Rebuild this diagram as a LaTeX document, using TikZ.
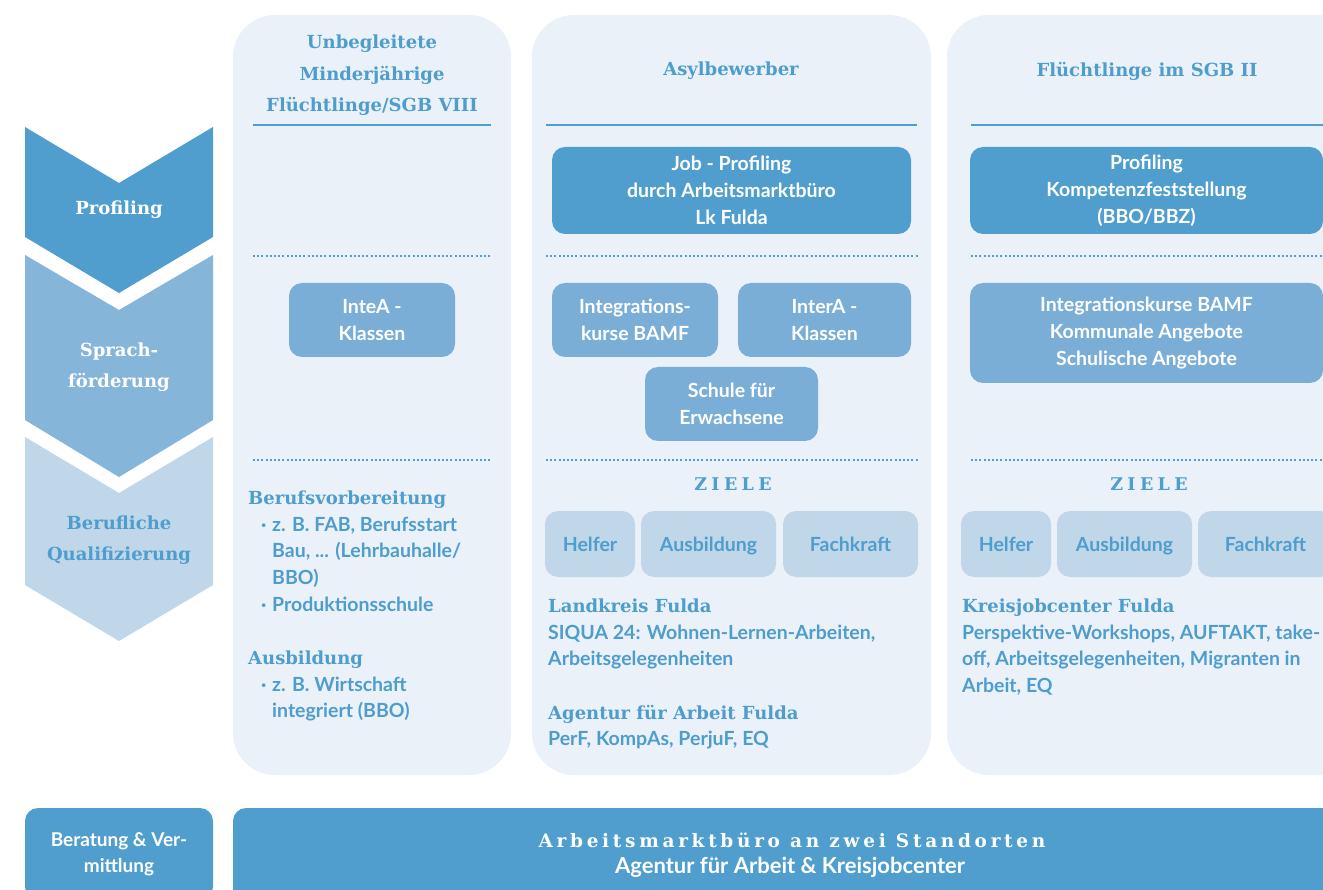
\documentclass[tikz,border=0pt]{standalone}
\usepackage{fontspec}
\setsansfont{Lato}
\newfontfamily\serifb{DejaVu Serif}
\definecolor{cBg}{HTML}{EAF1F8}
\definecolor{cDark}{HTML}{509ECE}
\definecolor{cMid}{HTML}{7AAED7}
\definecolor{cChevMid}{HTML}{86B5DA}
\definecolor{cLight}{HTML}{C0D7EA}
\definecolor{cText}{HTML}{4F9DCD}
\newcommand\firstln{\rule{0pt}{16pt}}
\tikzset{
  x=1pt, y=-1pt,
  column/.style={fill=cBg, rounded corners=42pt},
  boxbase/.style={rounded corners=13pt, inner sep=0pt, align=center, font=\sffamily\bfseries\fontsize{19.5}{27}\selectfont},
  darkbox/.style={boxbase, fill=cDark, text=white},
  midbox/.style={boxbase, fill=cMid, text=white},
  zielbox/.style={boxbase, fill=cLight, text=cText, minimum height=66pt, text height=16pt, text depth=2pt},
  colhead/.style={text=cText, align=center, font=\serifb\bfseries\fontsize{18}{31.5}\selectfont},
  sechead/.style={text=cText, anchor=base west, inner sep=0pt, font=\serifb\bfseries\fontsize{18}{27}\selectfont},
  bodytxt/.style={text=cText, anchor=north west, inner sep=0pt, align=left, font=\sffamily\bfseries\fontsize{19.5}{26.7}\selectfont},
  chevlabel/.style={align=center, font=\serifb\bfseries\fontsize{18}{31}\selectfont},
  rule/.style={cDark, line width=2.5pt},
  dotrule/.style={cDark, line width=2pt, dash pattern=on 2pt off 2.2pt},
  ziele/.style={text=cText, font=\serifb\bfseries\fontsize{17.5}{20}\selectfont\addfontfeatures{LetterSpace=25}},
}
\begin{document}
\begin{tikzpicture}
\useasboundingbox (0,0) rectangle (1323,890);
\clip (0,0) rectangle (1323,890);
\fill[white] (0,0) rectangle (1323,890);

% columns
\fill[column] (233,15) rectangle (511,775);
\fill[column] (532,15) rectangle (931,775);
\fill[column] (947,15) rectangle (1400,775);

% chevrons
\fill[cDark] (25,127) -- (119,183) -- (213,127) -- (213,237) -- (119,293) -- (25,237) -- cycle;
\fill[cChevMid] (25,255) -- (119,310) -- (213,255) -- (213,420) -- (119,477) -- (25,420) -- cycle;
\fill[cLight] (25,437) -- (119,493) -- (213,437) -- (213,585) -- (119,641) -- (25,585) -- cycle;
\node[chevlabel, text=white] (lprof) at (119,210) {Profiling};
\node[chevlabel, text=white] (lsprach) at (119,367) {Sprach-\\förderung};
\node[chevlabel, text=cText] (lberuf) at (119,540) {Berufliche\\Qualifizierung};

% headings
\node[colhead] (h1) at (372,75.5) {Unbegleitete\\Minderjährige\\Flüchtlinge/SGB VIII};
\node[colhead] (h2) at (731,71) {Asylbewerber};
\node[colhead] (h3) at (1147,71) {Flüchtlinge im SGB II};
\draw[rule] (253,125) -- (491,125);
\draw[rule] (546,125) -- (917,125);
\draw[rule] (971,125) -- (1323,125);

% dotted separators
\draw[dotrule] (253,256) -- (492,256);
\draw[dotrule] (546,256) -- (919,256);
\draw[dotrule] (971,256) -- (1323,256);
\draw[dotrule] (253,460) -- (492,460);
\draw[dotrule] (546,460) -- (919,460);
\draw[dotrule] (971,460) -- (1323,460);

% profiling boxes
\node[darkbox, minimum width=359pt, minimum height=87pt] (jobprof) at (731.5,190.5) {Job - Profiling\\durch Arbeitsmarktbüro\\Lk Fulda};
\node[darkbox, minimum width=353pt, minimum height=87pt] (prof3) at (1146.5,190.5) {Profiling\\Kompetenzfeststellung\\(BBO/BBZ)};

% sprachförderung boxes
\node[midbox, minimum width=166pt, minimum height=74pt] (intea) at (372,320) {InteA -\\Klassen};
\node[midbox, minimum width=166pt, minimum height=74pt] (integ) at (635,320) {Integrations-\\kurse BAMF};
\node[midbox, minimum width=173pt, minimum height=74pt] (intera) at (824.5,320) {InterA -\\Klassen};
\node[midbox, minimum width=173pt, minimum height=74pt] (schule) at (731.5,404) {Schule für\\Erwachsene};
\node[midbox, minimum width=353pt, minimum height=100pt] (sprach3) at (1146.5,333) {Integrationskurse BAMF\\Kommunale Angebote\\Schulische Angebote};

% ziele
\node[ziele] (z2) at (733,484) {ZIELE};
\node[ziele] (z3) at (1149,484) {ZIELE};
\node[zielbox, minimum width=90pt] (helfer2) at (590,544) {Helfer};
\node[zielbox, minimum width=135pt] (ausb2) at (708.5,544) {Ausbildung};
\node[zielbox, minimum width=135pt] (fach2) at (850.5,544) {Fachkraft};
\node[zielbox, minimum width=90pt] (helfer3) at (1006,544) {Helfer};
\node[zielbox, minimum width=135pt] (ausb3) at (1124.5,544) {Ausbildung};
\node[zielbox, minimum width=135pt] (fach3) at (1265.5,544) {Fachkraft};

% column 1 text
\node[sechead] (bv) at (248,504) {Berufsvorbereitung};
\node[bodytxt] (bvlist) at (261,515) {\firstln\makebox[11pt][l]{·}z. B. FAB, Berufsstart\\\hspace*{11pt}Bau, ... (Lehrbauhalle/\\\hspace*{11pt}BBO)\\\makebox[11pt][l]{·}Produktionsschule};
\node[sechead] (ab) at (248,664) {Ausbildung};
\node[bodytxt] (ablist) at (261,675) {\firstln\makebox[11pt][l]{·}z. B. Wirtschaft\\\hspace*{11pt}integriert (BBO)};

% column 2 text
\node[sechead] (lk) at (548,612) {Landkreis Fulda};
\node[bodytxt] (lktxt) at (548,623) {\firstln SIQUA 24: Wohnen-Lernen-Arbeiten,\\Arbeitsgelegenheiten};
\node[sechead] (aa) at (548,719) {Agentur für Arbeit Fulda};
\node[bodytxt] (aatxt) at (548,729) {\firstln PerF, KompAs, PerjuF, EQ};

% column 3 text
\node[sechead] (kj) at (962,612) {Kreisjobcenter Fulda};
\node[bodytxt] (kjtxt) at (962,623) {\firstln Perspektive-Workshops, AUFTAKT, take-\\off, Arbeitsgelegenheiten, Migranten in\\Arbeit, EQ};

% bottom row
\node[darkbox, minimum width=188pt, minimum height=92pt, font=\sffamily\bfseries\fontsize{19}{26}\selectfont] (berat) at (119,854) {Beratung \& Ver-\\mittlung};
\fill[cDark, rounded corners=13pt] (233,808) rectangle (1400,920);
\node[text=white, font=\serifb\bfseries\fontsize{18.5}{20}\selectfont\addfontfeatures{LetterSpace=20}] (amb) at (792,840) {Arbeitsmarktbüro an zwei Standorten};
\node[text=white, font=\sffamily\bfseries\fontsize{22}{22}\selectfont] (afa) at (790,867) {Agentur für Arbeit \& Kreisjobcenter};
\end{tikzpicture}
\end{document}
